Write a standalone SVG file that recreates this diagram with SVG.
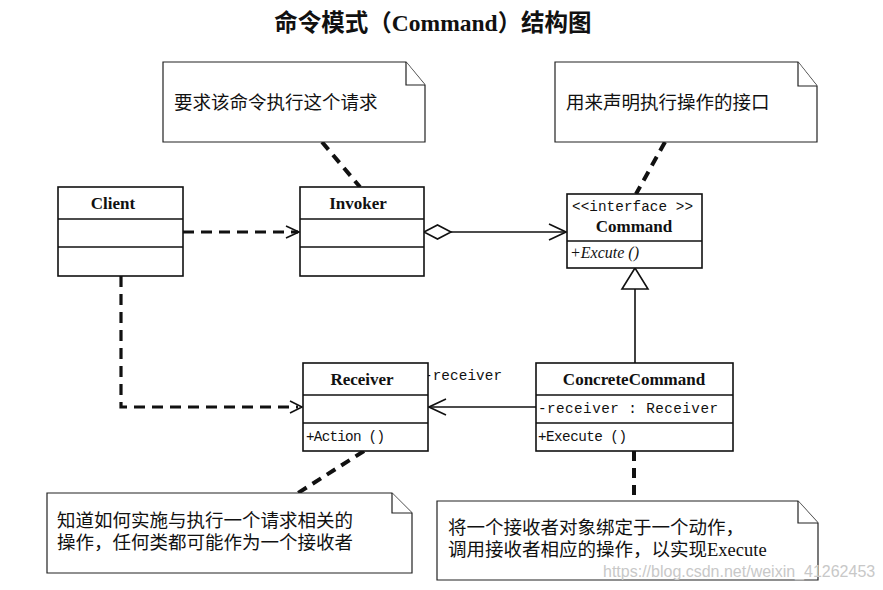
<svg xmlns="http://www.w3.org/2000/svg" width="883" height="590" viewBox="0 0 883 590">
<defs>
<style>
.box{fill:#fff;stroke:#111;stroke-width:1.6}
.ln{stroke:#111;stroke-width:1.6;fill:none}
.dash{stroke:#111;stroke-width:3.2;fill:none;stroke-dasharray:11 7}
.ndash{stroke:#111;stroke-width:4;fill:none;stroke-dasharray:10 7}
.note{fill:#fff;stroke:#222;stroke-width:1.2}
.cn{font-family:"Noto Sans CJK SC",sans-serif;font-size:18.5px;fill:#111}
.cls{font-family:"Liberation Serif",serif;font-weight:bold;font-size:17px;fill:#111;text-anchor:middle}
.att{font-family:"Liberation Mono","Noto Sans CJK SC",monospace;font-size:14.3px;fill:#111}
</style>
<marker id="open" viewBox="0 0 20 20" refX="19" refY="10" markerWidth="20" markerHeight="20" markerUnits="userSpaceOnUse" orient="auto">
<path d="M2,2 L19,10 L2,18" fill="none" stroke="#111" stroke-width="1.6"/>
</marker>
</defs>
<rect width="883" height="590" fill="#fff"/>
<text x="433" y="31" text-anchor="middle" font-family="Noto Sans CJK SC,sans-serif" font-weight="bold" font-size="23.5" fill="#111">命令模式（<tspan font-family="Liberation Serif,serif">Command</tspan>）结构图</text>

<g id="connectors">
<line class="ndash" x1="322" y1="142" x2="360" y2="187"/>
<line class="ndash" x1="665" y1="142" x2="636" y2="194"/>
<line class="ndash" x1="364" y1="451" x2="298" y2="493"/>
<line class="ndash" x1="634" y1="451" x2="634" y2="501"/>
<line class="dash" x1="183" y1="232" x2="298" y2="232"/>
<path d="M286,226 L299,232 L286,238" class="ln"/>
<polyline class="dash" points="121,276 121,407 298,407"/>
<path d="M290,401 L302,407 L290,413" class="ln"/>
<line class="ln" x1="451" y1="232" x2="566" y2="232" marker-end="url(#open)"/>
<path d="M424,232 L437.5,225 L451,232 L437.5,239 Z" fill="#fff" stroke="#111" stroke-width="1.6"/>
<line class="ln" x1="635" y1="289" x2="635" y2="363"/>
<path d="M635,268 L622,289 L648,289 Z" fill="#fff" stroke="#111" stroke-width="1.6"/>
<line class="ln" x1="536" y1="407" x2="429" y2="407" marker-end="url(#open)"/>
<text x="424" y="380" class="att" textLength="78">-receiver</text>
</g>

<g id="note-invoker">
<path class="note" d="M163,62 L406,62 L425,85 L425,142 L163,142 Z"/>
<path class="note" d="M406,62 L406,85 L425,85" fill="none"/>
<text x="174" y="109" class="cn">要求该命令执行这个请求</text>
</g>

<g id="note-command">
<path class="note" d="M555,62 L798,62 L817,86 L817,142 L555,142 Z"/>
<path class="note" d="M798,62 L798,86 L817,86" fill="none"/>
<text x="566" y="109" class="cn">用来声明执行操作的接口</text>
</g>

<g id="client">
<rect class="box" x="58" y="187" width="125" height="89"/>
<line class="ln" x1="58" y1="219" x2="183" y2="219"/>
<line class="ln" x1="58" y1="247" x2="183" y2="247"/>
<text x="113" y="209" class="cls">Client</text>
</g>

<g id="invoker">
<rect class="box" x="300" y="187" width="124" height="89"/>
<line class="ln" x1="300" y1="219" x2="424" y2="219"/>
<line class="ln" x1="300" y1="247" x2="424" y2="247"/>
<text x="358" y="209" class="cls">Invoker</text>
</g>

<g id="command">
<rect class="box" x="567" y="194" width="135" height="74"/>
<line class="ln" x1="567" y1="241" x2="702" y2="241"/>
<text x="572" y="211" class="att" textLength="121">&lt;&lt;interface &gt;&gt;</text>
<text x="634" y="232" class="cls">Command</text>
<text x="570" y="258" font-family="Liberation Serif,serif" font-size="16" font-style="italic" fill="#111">+Excute ()</text>
</g>

<g id="receiver">
<rect class="box" x="303" y="363" width="125" height="88"/>
<line class="ln" x1="303" y1="395" x2="428" y2="395"/>
<line class="ln" x1="303" y1="423" x2="428" y2="423"/>
<text x="362" y="385" class="cls">Receiver</text>
<text x="306" y="441" class="att" textLength="79">+Action ()</text>
</g>

<g id="concrete-command">
<rect class="box" x="536" y="363" width="197" height="88"/>
<line class="ln" x1="536" y1="395" x2="733" y2="395"/>
<line class="ln" x1="536" y1="423" x2="733" y2="423"/>
<text x="634" y="385" class="cls">ConcreteCommand</text>
<text x="538" y="413" class="att" textLength="180">-receiver  : Receiver</text>
<text x="538" y="441" class="att" textLength="89">+Execute ()</text>
</g>

<g id="note-receiver">
<path class="note" d="M47,493 L392,493 L412,513 L412,573 L47,573 Z"/>
<path class="note" d="M392,493 L392,513 L412,513" fill="none"/>
<text x="57" y="527" class="cn">知道如何实施与执行一个请求相关的</text>
<text x="57" y="549" class="cn">操作，任何类都可能作为一个接收者</text>
</g>

<g id="note-concrete">
<path class="note" d="M437,501 L798,501 L818,523 L818,580 L437,580 Z"/>
<path class="note" d="M798,501 L798,523 L818,523" fill="none"/>
<text x="448" y="534" class="cn">将一个接收者对象绑定于一个动作，</text>
<text x="448" y="556" class="cn">调用接收者相应的操作，以实现<tspan font-family="Liberation Serif,serif">Execute</tspan></text>
</g>

<text x="603" y="577" font-family="Liberation Sans,sans-serif" font-size="16" fill="#c8c8c8">https://blog.csdn.net/weixin_41262453</text>
</svg>
